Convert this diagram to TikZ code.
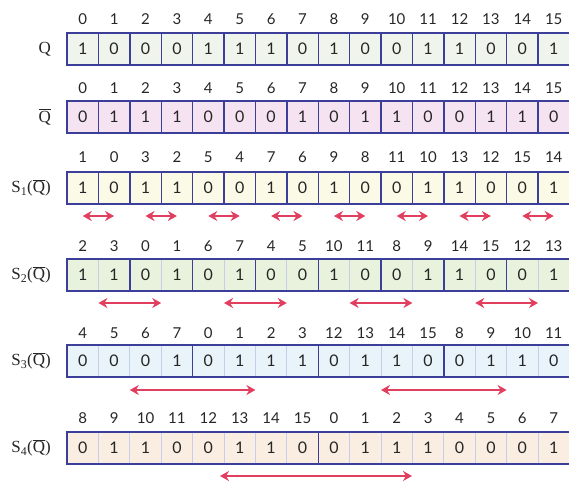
\documentclass[tikz,border=0pt]{standalone}
\usepackage{fontspec}
\setmainfont{Liberation Serif}
\newfontfamily\digitfont{Lato}
\usepackage{xcolor}
\usepackage{tikz}
\usetikzlibrary{arrows.meta,calc,positioning}
\definecolor{framecol}{HTML}{3B3F99}
\definecolor{lightcol}{HTML}{C8CDEB}
\definecolor{swapred}{HTML}{E23E5D}
\definecolor{fillq}{HTML}{EFF5EC}
\definecolor{fillnq}{HTML}{F6E3F2}
\definecolor{fillsa}{HTML}{FAFAE6}
\definecolor{fillsb}{HTML}{E8F2DC}
\definecolor{fillsc}{HTML}{E8F4F9}
\definecolor{fillsd}{HTML}{FAEEE2}
\tikzset{
  bit/.style={font=\digitfont\fontsize{16}{16}\selectfont,text=black!85,inner sep=0pt,text height=11pt,text depth=0pt},
  idx/.style={font=\digitfont\fontsize{15}{15}\selectfont,text=black!85,inner sep=0pt,text height=10.5pt,text depth=0pt},
  rowlabel/.style={anchor=east,font=\fontsize{17}{17}\selectfont,text=black!85,inner sep=0pt},
  frame/.style={draw=framecol,line width=1.4pt},
  inner/.style={draw=lightcol,line width=1pt},
  swap/.style={{Stealth[length=9pt,width=10pt]}-{Stealth[length=9pt,width=10pt]},line width=2.1pt,swapred}
}
\newcommand{\nq}{\ensuremath{\overline{\mbox{Q}}}}

\begin{document}
\begin{tikzpicture}[x=1pt,y=-1pt]
  \useasboundingbox (0,0) rectangle (569,485);
  % Q
  \fill[fillq] (67,33) rectangle (569.4,65);
  \foreach \v [count=\i from 0] in {1,0,0,0,1,1,1,0,1,0,0,1,1,0,0,1}
    \node[bit] (q\i) at (82.7+31.4*\i,49) {\v};
  \foreach \k [count=\i from 0] in {0,...,15}
    \node[idx] (qi\i) at (82.7+31.4*\i,19) {\k};
  \foreach \i in {1,...,15}
    \draw[frame] (67+31.4*\i,33) -- (67+31.4*\i,65);
  \draw[frame] (67,33) rectangle (569.4,65);
  \node[rowlabel] (lq) at (51,49) {Q};
  % not Q
  \fill[fillnq] (67,101) rectangle (569.4,133);
  \foreach \v [count=\i from 0] in {0,1,1,1,0,0,0,1,0,1,1,0,0,1,1,0}
    \node[bit] (n\i) at (82.7+31.4*\i,117) {\v};
  \foreach \k [count=\i from 0] in {0,...,15}
    \node[idx] (ni\i) at (82.7+31.4*\i,88) {\k};
  \foreach \i in {1,...,15}
    \draw[frame] (67+31.4*\i,101) -- (67+31.4*\i,133);
  \draw[frame] (67,101) rectangle (569.4,133);
  \node[rowlabel] (ln) at (51,117) {\nq};
  % S1
  \fill[fillsa] (67,172) rectangle (569.4,204);
  \foreach \v [count=\i from 0] in {1,0,1,1,0,0,1,0,1,0,0,1,1,0,0,1}
    \node[bit] (sa\i) at (82.7+31.4*\i,188) {\v};
  \foreach \k [count=\i from 0] in {1,0,3,2,5,4,7,6,9,8,11,10,13,12,15,14}
    \node[idx] (sai\i) at (82.7+31.4*\i,157) {\k};
  \foreach \i in {1,...,15}
    \draw[frame] (67+31.4*\i,172) -- (67+31.4*\i,204);
  \draw[frame] (67,172) rectangle (569.4,204);
  \node[rowlabel] (lsa) at (51,188) {S\textsubscript{1}(\nq)};
  \foreach \k in {0,...,7} {
    \coordinate (saL\k) at (82.7+62.8*\k,216);
    \coordinate (saR\k) at (114.1+62.8*\k,216);
    \draw[swap] (saL\k) -- (saR\k);
  }
  % S2
  \fill[fillsb] (67,259) rectangle (569.4,291);
  \foreach \v [count=\i from 0] in {1,1,0,1,0,1,0,0,1,0,0,1,1,0,0,1}
    \node[bit] (sb\i) at (82.7+31.4*\i,275) {\v};
  \foreach \k [count=\i from 0] in {2,3,0,1,6,7,4,5,10,11,8,9,14,15,12,13}
    \node[idx] (sbi\i) at (82.7+31.4*\i,246) {\k};
  \foreach \i in {1,3,...,15}
    \draw[inner] (67+31.4*\i,259) -- (67+31.4*\i,291);
  \foreach \i in {2,4,...,14}
    \draw[frame] (67+31.4*\i,259) -- (67+31.4*\i,291);
  \draw[frame] (67,259) rectangle (569.4,291);
  \node[rowlabel] (lsb) at (51,275) {S\textsubscript{2}(\nq)};
  \foreach \k in {0,...,3} {
    \coordinate (sbL\k) at (98.4+125.6*\k,303);
    \coordinate (sbR\k) at (161.2+125.6*\k,303);
    \draw[swap] (sbL\k) -- (sbR\k);
  }
  % S3
  \fill[fillsc] (67,345) rectangle (569.4,377);
  \foreach \v [count=\i from 0] in {0,0,0,1,0,1,1,1,0,1,1,0,0,1,1,0}
    \node[bit] (sc\i) at (82.7+31.4*\i,361) {\v};
  \foreach \k [count=\i from 0] in {4,5,6,7,0,1,2,3,12,13,14,15,8,9,10,11}
    \node[idx] (sci\i) at (82.7+31.4*\i,333) {\k};
  \foreach \i in {1,2,3,5,6,7,9,10,11,13,14,15}
    \draw[inner] (67+31.4*\i,345) -- (67+31.4*\i,377);
  \foreach \i in {4,8,12}
    \draw[frame] (67+31.4*\i,345) -- (67+31.4*\i,377);
  \draw[frame] (67,345) rectangle (569.4,377);
  \node[rowlabel] (lsc) at (51,361) {S\textsubscript{3}(\nq)};
  \foreach \k in {0,1} {
    \coordinate (scL\k) at (129.8+251.2*\k,390);
    \coordinate (scR\k) at (255.4+251.2*\k,390);
    \draw[swap] (scL\k) -- (scR\k);
  }
  % S4
  \fill[fillsd] (67,432) rectangle (569.4,464);
  \foreach \v [count=\i from 0] in {0,1,1,0,0,1,1,0,0,1,1,1,0,0,0,1}
    \node[bit] (sd\i) at (82.7+31.4*\i,448) {\v};
  \foreach \k [count=\i from 0] in {8,9,10,11,12,13,14,15,0,1,2,3,4,5,6,7}
    \node[idx] (sdi\i) at (82.7+31.4*\i,418) {\k};
  \foreach \i in {1,...,7,9,10,...,15}
    \draw[inner] (67+31.4*\i,432) -- (67+31.4*\i,464);
  \draw[frame] (318.2,432) -- (318.2,464);
  \draw[frame] (67,432) rectangle (569.4,464);
  \node[rowlabel] (lsd) at (51,448) {S\textsubscript{4}(\nq)};
  \coordinate (sdL) at (220,476);
  \coordinate (sdR) at (412,476);
  \draw[swap] (sdL) -- (sdR);
\end{tikzpicture}
\end{document}
